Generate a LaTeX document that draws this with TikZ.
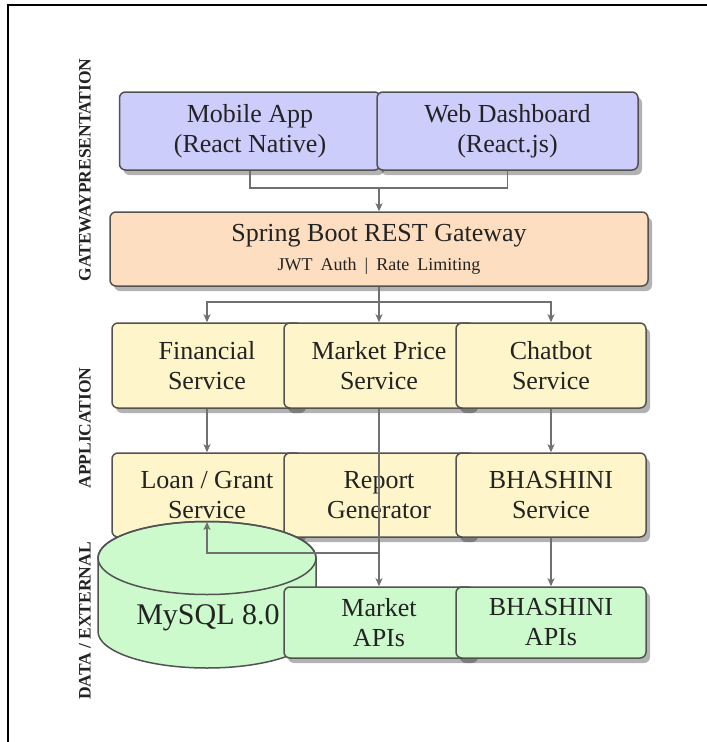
\documentclass[tikz,border=0pt]{standalone}
\usepackage{fontspec}
\setmainfont{Liberation Serif}
\usetikzlibrary{arrows.meta,shadows}
\definecolor{presfill}{RGB}{205,205,252}
\definecolor{gwfill}{RGB}{253,222,192}
\definecolor{appfill}{RGB}{254,246,202}
\definecolor{datafill}{RGB}{204,250,204}
\definecolor{boxline}{RGB}{82,82,82}
\definecolor{arrowc}{RGB}{112,112,112}
\definecolor{textc}{RGB}{35,35,35}
\begin{document}
\begin{tikzpicture}[x=1pt,y=-1pt,
  box/.style={draw=boxline, line width=1.5pt, rounded corners=6pt, align=center,
    inner sep=0pt, text=textc, font=\fontsize{26}{30}\selectfont,
    drop shadow={shadow xshift=4pt, shadow yshift=-5pt, opacity=0.3, fill=black}},
  presbox/.style={box, fill=presfill, minimum width=261pt, minimum height=78pt},
  gwbox/.style={box, fill=gwfill, minimum width=538pt, minimum height=74pt},
  appbox/.style={box, fill=appfill, minimum width=190pt, minimum height=85pt},
  databox/.style={box, fill=datafill, minimum width=190pt, minimum height=71pt},
  lab/.style={rotate=90, font=\fontsize{17.5}{20}\selectfont\bfseries, text=textc},
  conn/.style={draw=arrowc, line width=1.3pt},
  arr/.style={conn, -{Stealth[length=8pt,width=7pt,inset=2pt]}}]
\useasboundingbox (0,0) rectangle (707,742);
\fill[white] (0,0) rectangle (707,742);
% frame
\draw[line width=2pt, black] (8,742) -- (8,5) -- (707,5);
% layer labels
\node[lab] (lpres) at (85,170) {GATEWAYPRESENTATION};
\node[lab] (lapp) at (85,428) {APPLICATION};
\node[lab] (ldata) at (85,621) {DATA / EXTERNAL};
% presentation
\node[presbox] (mobile) at (250,131) {Mobile App\\(React Native)};
\node[presbox] (web) at (507.5,131) {Web Dashboard\\(React.js)};
% gateway
\node[gwbox] (gw) at (379,249) {Spring Boot REST Gateway\\[-1pt]{\fontsize{18}{22}\selectfont JWT\hspace{8pt}Auth\hspace{8pt}|\hspace{8pt}Rate\hspace{8pt}Limiting}};
% application row 1
\node[appbox] (fin) at (207,365.5) {Financial\\Service};
\node[appbox] (mp) at (379,365.5) {Market Price\\Service};
\node[appbox] (chat) at (551,365.5) {Chatbot\\Service};
% application row 2
\node[appbox, minimum height=84pt] (loan) at (207,495) {Loan / Grant\\Service};
\node[appbox, minimum height=84pt] (rep) at (379,495) {Report\\Generator};
\node[appbox, minimum height=84pt] (bsvc) at (551,495) {BHASHINI\\Service};
% database cylinder
\filldraw[fill=datafill, draw=boxline, line width=1.5pt]
  (98,558) -- (98,631.5) arc[start angle=180, end angle=0, x radius=109, y radius=36.5]
  -- (316,558) arc[start angle=0, end angle=-180, x radius=109, y radius=36.5] -- cycle;
\draw[draw=boxline, line width=1.5pt] (207,558) ellipse [x radius=109, y radius=36.5];
\node[text=textc, font=\fontsize{30}{34}\selectfont, inner sep=0pt] (db) at (208,618) {MySQL 8.0};
\coordinate (dbtop) at (207,522);
% external
\node[databox] (mapi) at (379,622.5) {Market\\APIs};
\node[databox] (bapi) at (551,622.5) {BHASHINI\\APIs};
% connectors
\coordinate (merge) at (379,188);
\draw[conn] (mobile.south) |- (merge) -| (web.south);
\draw[arr] (merge) -- (gw.north);
\coordinate (split) at (379,302);
\draw[conn] (gw.south) -- (split);
\draw[arr] (split) -| (fin.north);
\draw[arr] (split) -| (chat.north);
\draw[arr] (split) -- (mp.north);
\draw[arr] (fin.south) -- (loan.north);
\draw[arr] (chat.south) -- (bsvc.north);
\draw[arr] (bsvc.south) -- (bapi.north);
\draw[arr] (mp.south) -- (mapi.north);
\coordinate (tap) at (379,553);
\draw[arr] (tap) -| (dbtop);
\end{tikzpicture}
\end{document}
